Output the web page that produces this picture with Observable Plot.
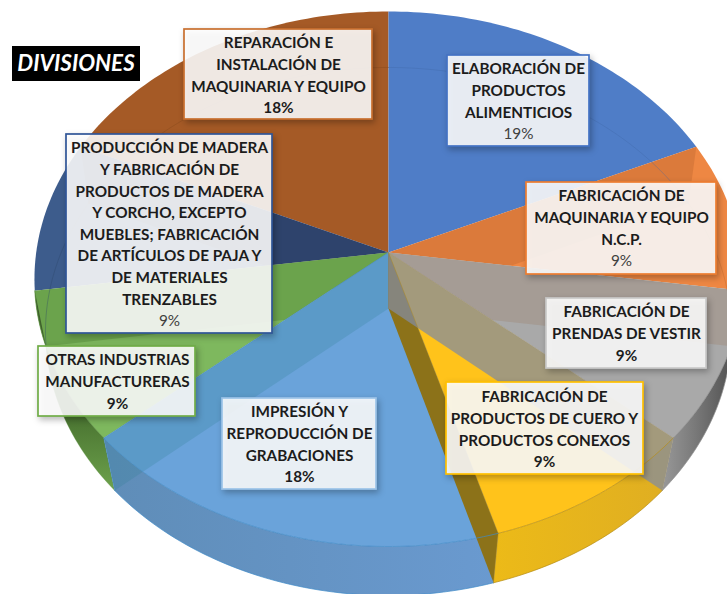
<!DOCTYPE html>
<html>
<head>
<meta charset="utf-8">
<script src="https://cdn.jsdelivr.net/npm/d3@7"></script>
<script src="https://cdn.jsdelivr.net/npm/@observablehq/plot@0.6"></script>
<style>
html,body{margin:0;padding:0;background:#fff}
svg{display:block}
.box{filter:drop-shadow(2px 3px 3px rgba(0,0,0,.3))}
</style>
</head>
<body>
<div id="chart"></div>
<script>
// ---- data ----
const divisions = [
  "ELABORACIÓN DE PRODUCTOS ALIMENTICIOS",
  "FABRICACIÓN DE MAQUINARIA Y EQUIPO N.C.P.",
  "FABRICACIÓN DE PRENDAS DE VESTIR",
  "FABRICACIÓN DE PRODUCTOS DE CUERO Y PRODUCTOS CONEXOS",
  "IMPRESIÓN Y REPRODUCCIÓN DE GRABACIONES",
  "OTRAS INDUSTRIAS MANUFACTURERAS",
  "PRODUCCIÓN DE MADERA Y FABRICACIÓN DE PRODUCTOS DE MADERA Y CORCHO, EXCEPTO MUEBLES; FABRICACIÓN DE ARTÍCULOS DE PAJA Y DE MATERIALES TRENZABLES",
  "REPARACIÓN E INSTALACIÓN DE MAQUINARIA Y EQUIPO"
];
const shares = [18.2, 9.1, 9.1, 9.1, 18.2, 9.1, 9.1, 18.2];
const percentLabels = ["19%", "9%", "9%", "9%", "18%", "9%", "9%", "18%"];
const titleText = "DIVISIONES";

// ---- styles ----
const topColors  = ["#4f7dc7", "#ee8743", "#a9a9a9", "#ffc31b", "#6aa3da", "#7eb85e", "#3d5c8c", "#a55a26"];
const wallColors = [null, null, "url(#wallGray)", "url(#wallYellow)", "url(#wallBlue)", "url(#wallGreen)", null, null];
const ringColors = ["#3f66a6", "#b8642a", "#8f8f8f", "#b58c12", "#3f8ac8", "#5b9140", "#2c4468", "#7f4519"];
// overlay seen through each slice: the far side wall at the start of the following slice
const sideColors  = ["#a25423", "#9d7f67", "#848c9e", "#8c7219", "#2e8092", "#326416", "#0e0925", "#84481c"];
const sideOpacity = [0.25, 0.3, 0.75, 1, 0.25, 0.25, 0.3, 0];

const labelLines = [
  ["ELABORACIÓN DE", "PRODUCTOS", "ALIMENTICIOS"],
  ["FABRICACIÓN DE", "MAQUINARIA Y EQUIPO", "N.C.P."],
  ["FABRICACIÓN DE", "PRENDAS DE VESTIR"],
  ["FABRICACIÓN DE", "PRODUCTOS DE CUERO Y", "PRODUCTOS CONEXOS"],
  ["IMPRESIÓN Y", "REPRODUCCIÓN DE", "GRABACIONES"],
  ["OTRAS INDUSTRIAS", "MANUFACTURERAS"],
  ["PRODUCCIÓN DE MADERA", "Y FABRICACIÓN DE", "PRODUCTOS DE MADERA", "Y CORCHO, EXCEPTO", "MUEBLES; FABRICACIÓN", "DE ARTÍCULOS DE PAJA Y", "DE MATERIALES", "TRENZABLES"],
  ["REPARACIÓN E", "INSTALACIÓN DE", "MAQUINARIA Y EQUIPO"]
];
const percentWeights = ["normal", "normal", "bold", "bold", "bold", "bold", "normal", "bold"];
const boxBorders = ["#4472c4", "#ed7d31", "#c9c9c9", "#ffc000", "#9cc3e8", "#70ad47", "#2f5597", "#c9702f"];
// layout of the label boxes: left, right, top, bottom, centre line, first text line
const boxLayout = [
  [447, 589,  55, 146, 518,  69],
  [526, 716, 182, 274, 621, 196],
  [546, 706, 298, 368, 626, 312],
  [446, 643, 382, 474, 544, 397],
  [222, 376, 398, 489, 299, 412],
  [ 38, 195, 346, 416, 117, 360],
  [ 66, 272, 134, 333, 169, 148],
  [184, 372,  29, 119, 278,  43]
];
const lineStep = 21.6;

// ---- pie geometry: a circle seen in perspective ----
const topFace = {cx: 388, y0: 252, A: 352.3, B: 264.9, k: 0.099};
const botFace = {cx: 388, y0: 308, A: 341.7, B: 262,   k: 0.087};
const project = (f, t) => {
  const u = Math.sin(t), v = -Math.cos(t), w = 1 - f.k * v;
  return [f.cx + f.A * u / w, f.y0 + f.B * v / w];
};
const arc = (f, a, b) => {
  const n = Math.max(2, Math.ceil(Math.abs(b - a) / 0.02));
  return d3.range(n + 1).map(i => project(f, a + (b - a) * i / n));
};
const total = d3.sum(shares);
const cum = d3.cumsum(shares);
const slices = shares.map((s, i) => ({
  a0: ((i ? cum[i - 1] : 0) / total) * 2 * Math.PI,
  a1: (cum[i] / total) * 2 * Math.PI
}));
const apexTop = [topFace.cx, topFace.y0];
const apexBot = [botFace.cx, botFace.y0];

const poly = (pts, o) => Plot.line(pts, {
  x: d => d[0], y: d => d[1], curve: "linear-closed", stroke: "none", ...o
});
const path = (pts, o) => Plot.line(pts, {
  x: d => d[0], y: d => d[1], fill: "none", ...o
});

const defs = () => {
  const d = d3.create("svg:defs");
  const grad = (id, x1, y1, x2, y2, stops) => {
    const g = d.append("linearGradient").attr("id", id)
      .attr("gradientUnits", "userSpaceOnUse")
      .attr("x1", x1).attr("y1", y1).attr("x2", x2).attr("y2", y2);
    stops.forEach(([o, c]) => g.append("stop").attr("offset", o).attr("stop-color", c));
  };
  grad("wallGray", 660, 0, 735, 0, [[0, "#9a9a9a"], [0.45, "#7a7a7a"], [1, "#4e4e4e"]]);
  grad("wallYellow", 495, 0, 670, 0, [[0, "#ecba18"], [1, "#dfae22"]]);
  grad("wallBlue", 110, 0, 500, 0, [[0, "#5f8db8"], [1, "#6a9ad0"]]);
  grad("wallGreen", 0, 290, 0, 490, [[0, "#3c5c2a"], [0.6, "#47702f"], [1, "#6da24c"]]);
  return d.node();
};

// one slice: its top face and, when it faces the viewer, its outer wall
const sliceFace = i => {
  const s = slices[i];
  const out = [poly([apexTop, ...arc(topFace, s.a0, s.a1)], {fill: topColors[i]})];
  if (wallColors[i]) out.push(poly([...arc(topFace, s.a0, s.a1), ...arc(botFace, s.a1, s.a0)], {fill: wallColors[i]}));
  return out;
};
// the side wall at the end of slice i, seen through the slice that follows it
const side = i => {
  const t = slices[i].a1;
  return poly([apexTop, project(topFace, t), project(botFace, t), apexBot],
    {fill: sideColors[i], fillOpacity: sideOpacity[i]});
};
const rings = slices.map((s, i) => path(arc(botFace, s.a0, s.a1),
  {stroke: ringColors[i], strokeOpacity: (i >= 2 && i <= 4) ? 0.7 : 0.35, strokeWidth: 1}));
const topRims = slices.map((s, i) => (i >= 2 && i <= 5)
  ? path(arc(topFace, s.a0, s.a1), {stroke: ringColors[i], strokeOpacity: 0.7, strokeWidth: 1})
  : null).filter(Boolean);
const edges = [2, 3, 4].map(i => {
  const t = slices[i].a1;
  return path([apexTop, project(topFace, t), project(botFace, t)],
    {stroke: ringColors[i], strokeOpacity: 0.6, strokeWidth: 0.8});
});

// labels
const boxes = boxLayout.map((b, i) => Plot.rect([b], {
  x1: d => d[0], x2: d => d[1], y1: d => d[2], y2: d => d[3],
  fill: "#fff", fillOpacity: 0.88, stroke: boxBorders[i], strokeWidth: 1.7, className: "box"
}));
const nameRows = labelLines.flatMap((lines, i) => lines.map((text, j) => ({
  text, x: boxLayout[i][4], y: boxLayout[i][5] + j * lineStep
})));
const pctRows = percentLabels.map((text, i) => ({
  text, weight: percentWeights[i],
  x: boxLayout[i][4], y: boxLayout[i][5] + labelLines[i].length * lineStep
}));
const txt = (rows, o) => Plot.text(rows, {
  x: "x", y: "y", text: "text", fontFamily: "Lato", fontSize: 15.3, textAnchor: "middle", lineAnchor: "middle", ...o
});

const chart = Plot.plot({
  width: 727, height: 594, margin: 0,
  x: {domain: [0, 727], range: [0, 727], axis: null},
  y: {domain: [0, 594], range: [0, 594], axis: null},
  style: {background: "transparent", overflow: "hidden"},
  marks: [
    defs,
    // painted slice by slice so that each see-through wall only shows over its neighbour
    ...sliceFace(7), ...sliceFace(0), ...sliceFace(6), side(6),
    ...sliceFace(5), side(5),
    ...sliceFace(4), side(4),
    ...sliceFace(1), side(0),
    ...sliceFace(2), side(1),
    ...sliceFace(3), side(3), side(2),
    ...rings, ...topRims, ...edges,
    ...boxes,
    txt(nameRows, {fontWeight: "bold", fill: "#1c1c1c"}),
    txt(pctRows.filter(d => d.weight === "bold"), {fontWeight: "bold", fill: "#1c1c1c"}),
    txt(pctRows.filter(d => d.weight !== "bold"), {fontWeight: "normal", fill: "#404040"}),
    Plot.rect([[12, 140, 46, 81]], {x1: d => d[0], x2: d => d[1], y1: d => d[2], y2: d => d[3], fill: "#000"}),
    Plot.text([titleText], {x: () => 75.5, y: () => 63.5, text: d => d, fill: "#fff", fontFamily: "Lato",
      fontSize: 22.4, fontWeight: "bold", fontStyle: "italic", textAnchor: "middle", lineAnchor: "middle"})
  ]
});
document.getElementById("chart").append(chart);
</script>
</body>
</html>
